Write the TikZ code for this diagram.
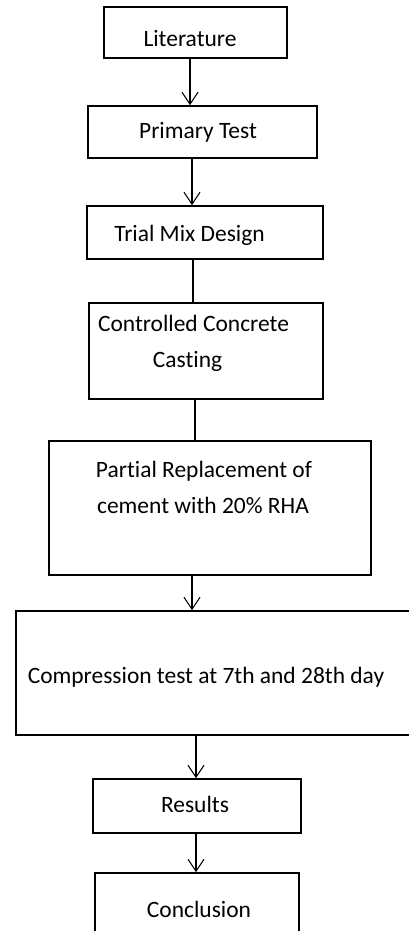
\documentclass[tikz,border=0pt]{standalone}
\usepackage{fontspec}
\setmainfont{Carlito}[Ligatures=NoCommon]
\usetikzlibrary{arrows.meta}
\tikzset{
  stagebox/.style={draw=black, line width=1.2pt, rectangle, inner sep=0pt, fill=none},
  stagetext/.style={anchor=base, inner sep=0pt, text=black, font=\fontsize{17.6pt}{21pt}\selectfont},
  link/.style={draw=black, line width=1pt},
  flow/.style={link, -{Straight Barb[length=9pt, width=12pt, line width=0.8pt]}},
}
\newcommand{\stage}[6]{%
  \node[stagebox, minimum width=#4*0.75pt, minimum height=#5*0.75pt] (#1) at (#2,#3) {#6};}
\begin{document}
\begin{tikzpicture}[x=0.75pt, y=-0.75pt]
  \path[use as bounding box, fill=white] (0,0) rectangle (409,931);
  \clip (0,0) rectangle (409,931);

  % boxes (centre x, centre y, width, height)
  \stage{b1}{195.5}{32.5}{183}{51}{}
  \stage{b2}{202.5}{132}{229}{52}{}
  \stage{b3}{205}{232.5}{236}{53}{}
  \stage{b4}{206}{351}{234}{96}{}
  \stage{b5}{210}{508}{322}{134}{}
  \stage{b6}{223}{673}{414}{124}{}
  \stage{b7}{197}{806}{208}{54}{}
  \stage{b8}{197}{904.5}{204}{63}{}

  % box texts
  \node[stagetext] (t1) at (190,47) {Literature};
  \node[stagetext] (t2) at (198,138) {Primary Test};
  \node[stagetext] (t3) at (189.5,241) {Trial Mix Design};
  \node[stagetext] (t4a) at (193.5,331) {Controlled Concrete};
  \node[stagetext] (t4b) at (187.5,367) {Casting};
  \node[stagetext] (t5a) at (204,477) {Partial Replacement of};
  \node[stagetext] (t5b) at (203,513) {cement with 20\% RHA};
  \node[stagetext] (t6) at (206,683) {Compression test at 7th and 28th day};
  \node[stagetext] (t7) at (195,812) {Results};
  \node[stagetext] (t8) at (199,917) {Conclusion};

  % x positions of the vertical connectors
  \coordinate (s1) at (190,0);
  \coordinate (s2) at (192,0);
  \coordinate (s3) at (193,0);
  \coordinate (s4) at (195,0);
  \coordinate (s5) at (192,0);
  \coordinate (s6) at (196,0);
  \coordinate (s7) at (196,0);

  % connectors
  \draw[flow] (b1.south -| s1) -- (b2.north -| s1);
  \draw[flow] (b2.south -| s2) -- (b3.north -| s2);
  \draw[link] (b3.south -| s3) -- (b4.north -| s3);
  \draw[link] (b4.south -| s4) -- (b5.north -| s4);
  \draw[flow] (b5.south -| s5) -- (b6.north -| s5);
  \draw[flow] (b6.south -| s6) -- (b7.north -| s6);
  \draw[flow] (b7.south -| s7) -- (b8.north -| s7);
\end{tikzpicture}
\end{document}
